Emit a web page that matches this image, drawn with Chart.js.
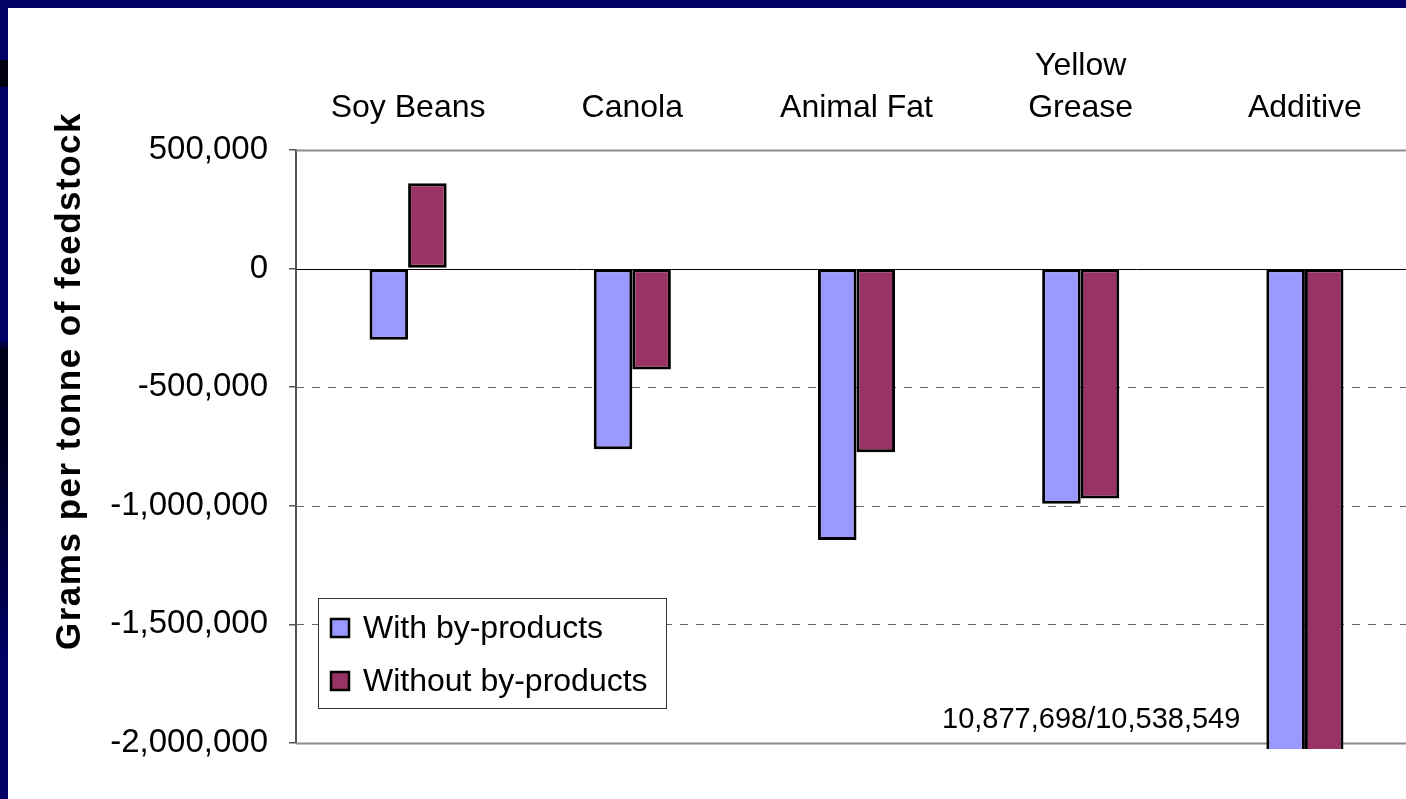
<!DOCTYPE html>
<html>
<head>
<meta charset="utf-8">
<script src="https://cdn.jsdelivr.net/npm/chart.js@4/dist/chart.umd.min.js"></script>
<style>
  html, body { margin: 0; padding: 0; width: 1406px; height: 799px; overflow: hidden; background: #000066; }
  #edge { position: absolute; left: 0; top: 0; width: 8px; height: 799px;
          background: linear-gradient(to bottom, #000066 0, #000066 60px, #000010 60px, #000010 87px, #000066 87px,
                      #000066 340px, #000018 350px, #000022 450px, #000050 600px, #000066 660px); }
  #wrap { position: absolute; left: 8px; top: 8px; width: 1420px; height: 791px; background: #fff; }
</style>
</head>
<body>
<div id="edge"></div>
<div id="wrap"><canvas id="myChart"></canvas></div>
<script>
// values
const categories = ['Soy Beans', 'Canola', 'Animal Fat', ['Yellow', 'Grease'], 'Additive'];
const withByProducts = [-300000, -762000, -1144000, -991000, -10877698];
const withoutByProducts = [360000, -425000, -774000, -969000, -10538549];
const seriesNames = ['With by-products', 'Without by-products'];
const seriesColors = ['#9999FF', '#993366'];
const yTitle = 'Grams per tonne of feedstock';
const offScaleNote = '10,877,698/10,538,549';

const fmt = v => v.toLocaleString('en-US');

// grid lines: solid at the top/bottom edges, black at zero, dashed in between
const gridPlugin = {
    id: 'gridLines',
    beforeDatasetsDraw(chart) {
        const { ctx, chartArea, scales: { y } } = chart;
        ctx.save();
        y.ticks.forEach(t => {
            const py = Math.round(y.getPixelForValue(t.value)) + 0.5;
            ctx.beginPath();
            if (t.value === 0) {
                ctx.setLineDash([]);
                ctx.strokeStyle = '#000';
                ctx.lineWidth = 1;
            } else if (t.value === y.max || t.value === y.min) {
                ctx.setLineDash([]);
                ctx.strokeStyle = '#8c8c8c';
                ctx.lineWidth = 2;
            } else {
                ctx.setLineDash([8, 8]);
                ctx.strokeStyle = '#666';
                ctx.lineWidth = 1;
            }
            ctx.moveTo(chartArea.left, py);
            ctx.lineTo(chartArea.right, py);
            ctx.stroke();
        });
        ctx.restore();
    }
};

// legend box inside the plot, y title and the note for the off-scale bars
const extrasPlugin = {
    id: 'extras',
    afterDraw(chart) {
        const { ctx, chartArea } = chart;
        ctx.save();

        // y axis title
        ctx.translate(62, 373);
        ctx.rotate(-Math.PI / 2);
        ctx.font = 'bold 35px "Liberation Sans", Arial, sans-serif';
        ctx.letterSpacing = '1.5px';
        ctx.fillStyle = '#000';
        ctx.textAlign = 'center';
        ctx.textBaseline = 'middle';
        ctx.fillText(yTitle, 0, 0);
        ctx.setTransform(1, 0, 0, 1, 0, 0);
        ctx.letterSpacing = '0px';

        // legend
        const bx = chartArea.left + 22, by = chartArea.bottom - 145, bw = 348, bh = 110;
        ctx.fillStyle = '#fff';
        ctx.fillRect(bx, by, bw, bh);
        ctx.strokeStyle = '#333';
        ctx.lineWidth = 1;
        ctx.strokeRect(bx + 0.5, by + 0.5, bw, bh);
        ctx.font = '32px "Liberation Sans", Arial, sans-serif';
        ctx.textAlign = 'left';
        ctx.textBaseline = 'middle';
        chart.data.datasets.forEach((ds, i) => {
            const cy = by + 30 + i * 53;
            ctx.fillStyle = ds.backgroundColor;
            ctx.fillRect(bx + 13, cy - 9, 18, 18);
            ctx.strokeStyle = '#000';
            ctx.lineWidth = 2.5;
            ctx.strokeRect(bx + 13, cy - 9, 18, 18);
            ctx.fillStyle = '#000';
            ctx.fillText(ds.label, bx + 45, cy + 1);
        });

        // note for the clipped Additive bars
        const bar = chart.getDatasetMeta(0).data[4];
        ctx.font = '29px "Liberation Sans", Arial, sans-serif';
        ctx.textAlign = 'right';
        ctx.fillText(offScaleNote, bar.x - bar.width / 2 - 26, chartArea.bottom - 23);
        ctx.restore();
    }
};

const ctx = document.getElementById('myChart').getContext('2d');
const myChart = new Chart(ctx, {
    type: 'bar',
    data: {
        labels: categories,
        datasets: [{
            label: seriesNames[0],
            data: withByProducts,
            backgroundColor: seriesColors[0]
        }, {
            label: seriesNames[1],
            data: withoutByProducts,
            backgroundColor: seriesColors[1]
        }]
    },
    options: {
        responsive: true,
        maintainAspectRatio: false,
        animation: false,
        devicePixelRatio: 1,
        layout: { padding: { top: 0, left: 0, right: 11, bottom: 56 } },
        datasets: {
            bar: {
                borderColor: '#000',
                borderWidth: 3,
                borderSkipped: false,
                categoryPercentage: 0.344,
                barPercentage: 1,
                clip: { left: 0, top: 0, right: 0, bottom: 6 }
            }
        },
        plugins: {
            legend: { display: false },
            tooltip: { enabled: false }
        },
        scales: {
            x: {
                position: 'top',
                grid: { display: false, drawTicks: false },
                border: { display: false },
                ticks: {
                    autoSkip: false,
                    maxRotation: 0,
                    padding: 21,
                    color: '#000',
                    font: { family: '"Liberation Sans", Arial, sans-serif', size: 32, lineHeight: 1.3 }
                },
                afterFit(scale) { scale.height = 142; }
            },
            y: {
                min: -2000000,
                max: 500000,
                grid: { drawOnChartArea: false, drawTicks: true, tickLength: 7, color: '#555', lineWidth: 1.5 },
                border: { color: '#555', width: 2 },
                ticks: {
                    stepSize: 500000,
                    padding: 21,
                    color: '#000',
                    font: { family: '"Liberation Sans", Arial, sans-serif', size: 33 },
                    callback: v => fmt(v)
                },
                afterFit(scale) { scale.width = 288; }
            }
        }
    },
    plugins: [gridPlugin, extrasPlugin]
});
</script>
</body>
</html>
